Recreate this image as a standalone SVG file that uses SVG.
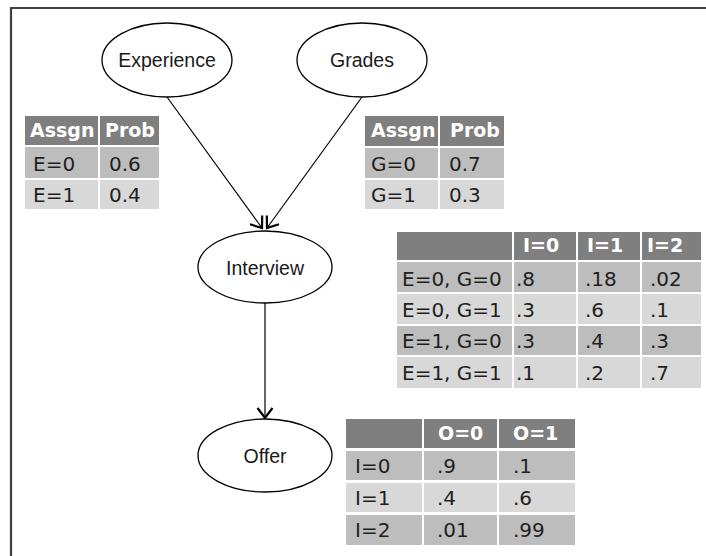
<svg xmlns="http://www.w3.org/2000/svg" width="706" height="556" viewBox="0 0 706 556">
<style>
.node ellipse{fill:#fff;stroke:#000;stroke-width:1.3}
.node text{font-family:"Liberation Sans",Arial,sans-serif;font-size:19.5px;fill:#1a1a1a;text-anchor:middle}
.edge{stroke:#000;stroke-width:1.2;fill:none;marker-end:url(#arr)}
.hd{fill:#7f7f7f}
.dk{fill:#bdbdbd}
.lt{fill:#d8d8d8}
.th{font-family:"DejaVu Sans",Verdana,sans-serif;font-size:19px;font-weight:bold;fill:#fff}
.td{font-family:"DejaVu Sans",Verdana,sans-serif;font-size:20px;fill:#1f1f1f}
</style>
<defs>
<marker id="arr" markerUnits="userSpaceOnUse" viewBox="-14 -10 16 20" refX="0" refY="0" markerWidth="16" markerHeight="20" orient="auto" overflow="visible">
<path d="M-10,-7.5 L0,0 L-10,7.5" fill="none" stroke="#000" stroke-width="2.2"/>
</marker>
</defs>
<rect width="706" height="556" fill="#fff"/>
<path d="M11,560 V8 H710" fill="none" stroke="#404040" stroke-width="2.2"/>

<g id="connectors">
<line class="edge" x1="167" y1="97" x2="262" y2="228"/>
<line class="edge" x1="362" y1="97" x2="267" y2="228"/>
<line class="edge" x1="265" y1="303" x2="265" y2="418"/>
</g>

<g id="experience" class="node"><ellipse cx="167" cy="60" rx="65" ry="37"/><text x="167" y="67">Experience</text></g>
<g id="grades" class="node"><ellipse cx="362" cy="60" rx="65" ry="37"/><text x="362" y="67">Grades</text></g>
<g id="interview" class="node"><ellipse cx="265" cy="267" rx="67" ry="36"/><text x="265" y="275">Interview</text></g>
<g id="offer" class="node"><ellipse cx="265" cy="455.5" rx="67" ry="36.5"/><text x="265" y="463">Offer</text></g>

<g id="table-e">
<rect class="hd" x="25" y="116" width="73" height="29"/><rect class="hd" x="100" y="116" width="59" height="29"/>
<rect class="dk" x="25" y="147" width="73" height="31"/><rect class="dk" x="100" y="147" width="59" height="31"/>
<rect class="lt" x="25" y="180" width="73" height="29"/><rect class="lt" x="100" y="180" width="59" height="29"/>
<text class="th" x="30" y="137">Assgn</text><text class="th" x="105" y="137">Prob</text>
<text class="td" x="33" y="171">E=0</text><text class="td" x="109" y="171">0.6</text>
<text class="td" x="33" y="202">E=1</text><text class="td" x="109" y="202">0.4</text>
</g>

<g id="table-g">
<rect class="hd" x="365" y="116" width="73" height="30"/><rect class="hd" x="440" y="116" width="64" height="30"/>
<rect class="dk" x="365" y="148" width="73" height="30"/><rect class="dk" x="440" y="148" width="64" height="30"/>
<rect class="lt" x="365" y="180" width="73" height="29"/><rect class="lt" x="440" y="180" width="64" height="29"/>
<text class="th" x="371" y="137">Assgn</text><text class="th" x="450" y="137">Prob</text>
<text class="td" x="371" y="171">G=0</text><text class="td" x="449" y="171">0.7</text>
<text class="td" x="371" y="202">G=1</text><text class="td" x="449" y="202">0.3</text>
</g>

<g id="table-i">
<rect class="hd" x="397" y="232" width="115" height="28"/><rect class="hd" x="514" y="232" width="62" height="28"/><rect class="hd" x="578" y="232" width="62" height="28"/><rect class="hd" x="642" y="232" width="59" height="28"/>
<rect class="dk" x="397" y="262" width="115" height="30"/><rect class="dk" x="514" y="262" width="62" height="30"/><rect class="dk" x="578" y="262" width="62" height="30"/><rect class="dk" x="642" y="262" width="59" height="30"/>
<rect class="lt" x="397" y="294" width="115" height="30"/><rect class="lt" x="514" y="294" width="62" height="30"/><rect class="lt" x="578" y="294" width="62" height="30"/><rect class="lt" x="642" y="294" width="59" height="30"/>
<rect class="dk" x="397" y="326" width="115" height="29"/><rect class="dk" x="514" y="326" width="62" height="29"/><rect class="dk" x="578" y="326" width="62" height="29"/><rect class="dk" x="642" y="326" width="59" height="29"/>
<rect class="lt" x="397" y="357" width="115" height="31"/><rect class="lt" x="514" y="357" width="62" height="31"/><rect class="lt" x="578" y="357" width="62" height="31"/><rect class="lt" x="642" y="357" width="59" height="31"/>
<text class="th" x="523" y="252">I=0</text><text class="th" x="587" y="252">I=1</text><text class="th" x="647" y="252">I=2</text>
<text class="td" x="402" y="286">E=0, G=0</text><text class="td" x="516" y="286">.8</text><text class="td" x="585" y="286">.18</text><text class="td" x="650" y="286">.02</text>
<text class="td" x="402" y="317">E=0, G=1</text><text class="td" x="516" y="317">.3</text><text class="td" x="585" y="317">.6</text><text class="td" x="650" y="317">.1</text>
<text class="td" x="402" y="348">E=1, G=0</text><text class="td" x="516" y="348">.3</text><text class="td" x="585" y="348">.4</text><text class="td" x="650" y="348">.3</text>
<text class="td" x="402" y="380">E=1, G=1</text><text class="td" x="516" y="380">.1</text><text class="td" x="585" y="380">.2</text><text class="td" x="650" y="380">.7</text>
</g>

<g id="table-o">
<rect class="hd" x="346" y="419" width="76" height="29"/><rect class="hd" x="424" y="419" width="73" height="29"/><rect class="hd" x="499" y="419" width="76" height="29"/>
<rect class="dk" x="346" y="451" width="76" height="29"/><rect class="dk" x="424" y="451" width="73" height="29"/><rect class="dk" x="499" y="451" width="76" height="29"/>
<rect class="lt" x="346" y="483" width="76" height="29"/><rect class="lt" x="424" y="483" width="73" height="29"/><rect class="lt" x="499" y="483" width="76" height="29"/>
<rect class="dk" x="346" y="515" width="76" height="30"/><rect class="dk" x="424" y="515" width="73" height="30"/><rect class="dk" x="499" y="515" width="76" height="30"/>
<text class="th" x="438" y="440">O=0</text><text class="th" x="513" y="440">O=1</text>
<text class="td" x="355" y="473">I=0</text><text class="td" x="437" y="473">.9</text><text class="td" x="513" y="473">.1</text>
<text class="td" x="355" y="505">I=1</text><text class="td" x="437" y="505">.4</text><text class="td" x="513" y="505">.6</text>
<text class="td" x="355" y="537">I=2</text><text class="td" x="437" y="537">.01</text><text class="td" x="513" y="537">.99</text>
</g>
</svg>
